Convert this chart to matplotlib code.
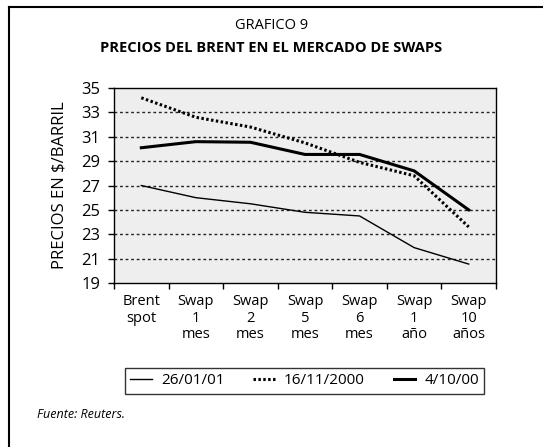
import matplotlib.pyplot as plt
from matplotlib.lines import Line2D

plt.rcParams['font.family'] = ['Open Sans', 'DejaVu Sans']

categorias = ["Brent\nspot", "Swap\n1\nmes", "Swap\n2\nmes", "Swap\n5\nmes",
              "Swap\n6\nmes", "Swap\n1\naño", "Swap\n10\naños"]
serie_260101 = [27.0, 26.0, 25.5, 24.8, 24.5, 21.9, 20.55]
serie_161100 = [34.2, 32.6, 31.8, 30.5, 28.9, 27.8, 23.6]
serie_041000 = [30.1, 30.6, 30.55, 29.55, 29.55, 28.2, 25.0]
yticks = [19, 21, 23, 25, 27, 29, 31, 33, 35]

fig = plt.figure(figsize=(5.43, 4.47), dpi=100)
ax = fig.add_axes([0.21, 0.367, 0.7034, 0.436])
ax.set_facecolor('#eeeeee')

x = list(range(len(categorias)))
ax.plot(x, serie_260101, color='black', lw=1.0, label='26/01/01')
ax.plot(x, serie_161100, color='black', lw=2.2, ls=(0, (0.8, 0.8)), label='16/11/2000')
ax.plot(x, serie_041000, color='black', lw=2.2, label='4/10/00')

ax.set_xlim(-0.5, len(categorias) - 0.5)
ax.set_ylim(19, 35)
ax.set_yticks(yticks)
ax.set_yticklabels([str(v) for v in yticks], fontsize=12)
ax.set_xticks(x)
ax.set_xticklabels(categorias, fontsize=10.5, va='top', linespacing=1.15)
ax.tick_params(axis='x', which='major', length=0, pad=8)
ax.set_xticks([i - 0.5 for i in range(len(categorias) + 1)], minor=True)
ax.tick_params(axis='x', which='minor', length=4, direction='out', width=1)
ax.tick_params(axis='y', length=4, direction='out', width=1, pad=6)

for v in yticks[1:-1]:
    ax.axhline(v, color='#222222', lw=1.0, ls=(0, (2, 2)), zorder=0.5)

for s in ax.spines.values():
    s.set_linewidth(1.0)

ax.set_ylabel("PRECIOS EN $/BARRIL", fontsize=12, labelpad=10)

fig.text(0.5, 0.944, "GRAFICO 9", ha='center', va='center', fontsize=10.5)
fig.text(0.5, 0.893, "PRECIOS DEL BRENT EN EL MERCADO DE SWAPS", ha='center',
         va='center', fontsize=10.5, fontweight='bold')

leg = fig.legend(loc='center', bbox_to_anchor=(0.561, 0.148), ncol=3,
                 fontsize=11, frameon=True, fancybox=False, edgecolor='black',
                 handlelength=1.4, handletextpad=0.6, columnspacing=1.9,
                 borderpad=0.35)
leg.get_frame().set_linewidth(1.0)

fig.text(0.068, 0.072, "Fuente: Reuters.", fontsize=9, style='italic', va='center')

# marco exterior: solo arriba e izquierda
fig.add_artist(Line2D([0.0166, 1.0], [0.984, 0.984], color='black', lw=1.5,
                      transform=fig.transFigure))
fig.add_artist(Line2D([0.0166, 0.0166], [0.0, 0.984], color='black', lw=1.5,
                      transform=fig.transFigure))

fig.savefig('out.png', dpi=100)
